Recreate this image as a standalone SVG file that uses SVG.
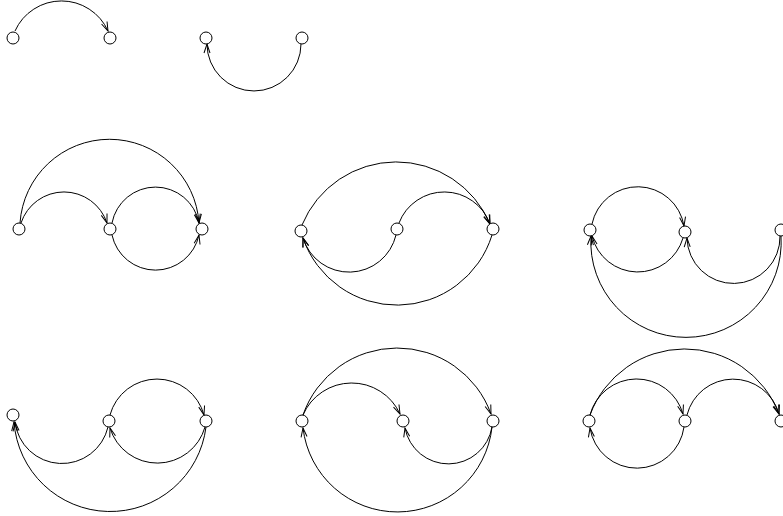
<svg xmlns="http://www.w3.org/2000/svg" width="783" height="516" viewBox="0 0 783 516">
<style>
.e{fill:none;stroke:#000;stroke-width:1;marker-end:url(#ah)}
.n{fill:#fff;stroke:#000;stroke-width:1}
</style>
<defs>
<marker id="ah" markerUnits="userSpaceOnUse" markerWidth="12" markerHeight="8" refX="9" refY="3" orient="auto" overflow="visible">
<path d="M0,0 L9,3 L0,6" fill="none" stroke="#000" stroke-width="1"/>
</marker>
</defs>
<rect width="783" height="516" fill="#fff"/>
<g id="connectors">
<path class="e" d="M15,31 A51 51 0 0 1 108,31"/>
<path class="e" d="M301,44 A47 47 0 0 1 207,44"/>
<path class="e" d="M21,223 A45.3 45.3 0 0 1 107,223"/>
<path class="e" d="M20,223 A89.7 89.7 0 0 1 199,223"/>
<path class="e" d="M112,223 A44.3 44.3 0 0 1 199,223"/>
<path class="e" d="M112,235 A44.5 44.5 0 0 0 199,235"/>
<path class="e" d="M302,225 A101.9 101.9 0 0 1 490,224"/>
<path class="e" d="M399,223 A48.6 48.6 0 0 1 490,224"/>
<path class="e" d="M396,235 A48.2 48.2 0 0 1 303,238"/>
<path class="e" d="M492,235 A99.4 99.4 0 0 1 303,238"/>
<path class="e" d="M592,224 A46.8 46.8 0 0 1 684,226"/>
<path class="e" d="M683,238 A47.1 47.1 0 0 1 592,236"/>
<path class="e" d="M780,236 A46.5 46.5 0 0 1 687,238"/>
<path class="e" d="M781,236 A95.2 95.2 0 1 1 591,236"/>
<path class="e" d="M110,415 A48.7 48.7 0 0 1 204,415"/>
<path class="e" d="M108,427 A47.3 47.3 0 0 1 15,422"/>
<path class="e" d="M205,427 A49.5 49.5 0 0 1 110,428"/>
<path class="e" d="M206,427 A96.5 96.5 0 0 1 14,422"/>
<path class="e" d="M303,415 A99.7 99.7 0 0 1 491,414"/>
<path class="e" d="M303,415 A53.1 53.1 0 0 1 400,414"/>
<path class="e" d="M492,427 A44.2 44.2 0 0 1 405,428"/>
<path class="e" d="M492,427 A95.1 95.1 0 0 1 303,428"/>
<path class="e" d="M590,415 A100.9 100.9 0 0 1 779,414"/>
<path class="e" d="M590,415 A48.2 48.2 0 0 1 683,414"/>
<path class="e" d="M687,415 A47.6 47.6 0 0 1 779,414"/>
<path class="e" d="M684,427 A47.5 47.5 0 0 1 590,428"/>
</g>
<g id="n1"><circle class="n" cx="13" cy="38" r="6"/></g>
<g id="n2"><circle class="n" cx="110" cy="38" r="6"/></g>
<g id="n3"><circle class="n" cx="206" cy="38" r="6"/></g>
<g id="n4"><circle class="n" cx="302" cy="38" r="6"/></g>
<g id="n5"><circle class="n" cx="19" cy="229" r="6"/></g>
<g id="n6"><circle class="n" cx="110" cy="229" r="6"/></g>
<g id="n7"><circle class="n" cx="202" cy="229" r="6"/></g>
<g id="n8"><circle class="n" cx="301" cy="231" r="6"/></g>
<g id="n9"><circle class="n" cx="397" cy="229" r="6"/></g>
<g id="n10"><circle class="n" cx="493" cy="229" r="6"/></g>
<g id="n11"><circle class="n" cx="590" cy="230" r="6"/></g>
<g id="n12"><circle class="n" cx="685" cy="232" r="6"/></g>
<g id="n13"><circle class="n" cx="781" cy="230" r="6"/></g>
<g id="n14"><circle class="n" cx="13" cy="415" r="6"/></g>
<g id="n15"><circle class="n" cx="109" cy="421" r="6"/></g>
<g id="n16"><circle class="n" cx="206" cy="421" r="6"/></g>
<g id="n17"><circle class="n" cx="302" cy="421" r="6"/></g>
<g id="n18"><circle class="n" cx="403" cy="421" r="6"/></g>
<g id="n19"><circle class="n" cx="493" cy="421" r="6"/></g>
<g id="n20"><circle class="n" cx="589" cy="421" r="6"/></g>
<g id="n21"><circle class="n" cx="685" cy="421" r="6"/></g>
<g id="n22"><circle class="n" cx="781" cy="421" r="6"/></g>
</svg>
